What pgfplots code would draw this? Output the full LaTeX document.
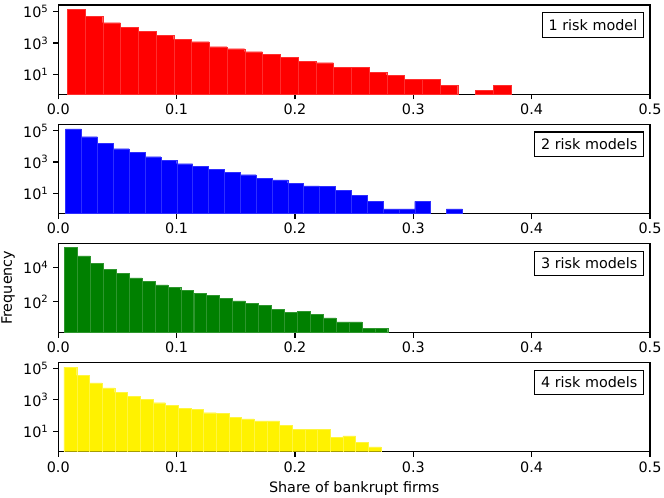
\documentclass[border=0pt]{standalone}
\usepackage{fontspec}
\setmainfont{DejaVu Sans}
\usepackage{pgfplots}
\pgfplotsset{compat=1.18}
\definecolor{mplgreen}{rgb}{0,0.5,0}
\newcommand{\fs}{\fontsize{10.77pt}{13pt}\selectfont}
\newcommand{\lbl}[1]{\node[draw, line width=0.86pt, anchor=north east, inner xsep=4.8pt, inner ysep=0pt, minimum height=18.3pt, font=\fs] at ([xshift=-4.3pt, yshift=-5.5pt]rel axis cs:1,1) {#1};}
\begin{document}
\begin{tikzpicture}
\useasboundingbox (0pt,0pt) rectangle (498pt,-373.5pt);
% Panel 1
\begin{axis}[scale only axis, width=443.8pt, height=67.05pt, anchor=north west,
  ymode=log, log origin=infty, xmin=0, xmax=0.5,
  xtick={0,0.1,0.2,0.3,0.4,0.5}, xticklabels={0.0,0.1,0.2,0.3,0.4,0.5},
  xtick pos=bottom, ytick pos=left, tick align=outside,
  major tick length=3.75pt, yminorticks=false, xminorticks=false,
  axis line style={line width=0.86pt}, every tick/.style={black, line width=0.86pt},
  tick label style={font=\fs}, clip=true,
  at={(43.7pt,-3.75pt)}, ymin=0.528, ymax=269000,
  ytick={10,1000,100000}, yticklabels={10\textsuperscript{1},10\textsuperscript{3},10\textsuperscript{5}}]
\addplot[ybar, bar shift=0pt, fill=red, draw=red!82!white, line width=0.2pt, bar width=0.015] coordinates {
(0.015,141000) (0.030,50000) (0.045,20000) (0.060,10000) (0.075,5500)
(0.090,3100) (0.105,1700) (0.120,1230) (0.135,590) (0.150,440)
(0.165,280) (0.180,195) (0.195,118) (0.210,69) (0.225,56)
(0.240,27) (0.255,27) (0.270,14) (0.285,9) (0.300,5)
(0.315,5) (0.330,2) (0.360,1) (0.375,2)};
\lbl{1 risk model}
\end{axis}
% Panel 2
\begin{axis}[scale only axis, width=443.8pt, height=67.05pt, anchor=north west,
  ymode=log, log origin=infty, xmin=0, xmax=0.5,
  xtick={0,0.1,0.2,0.3,0.4,0.5}, xticklabels={0.0,0.1,0.2,0.3,0.4,0.5},
  xtick pos=bottom, ytick pos=left, tick align=outside,
  major tick length=3.75pt, yminorticks=false, xminorticks=false,
  axis line style={line width=0.86pt}, every tick/.style={black, line width=0.86pt},
  tick label style={font=\fs}, clip=true,
  at={(43.7pt,-93.08pt)}, ymin=0.50, ymax=269000,
  ytick={10,1000,100000}, yticklabels={10\textsuperscript{1},10\textsuperscript{3},10\textsuperscript{5}}]
\addplot[ybar, bar shift=0pt, fill=blue, draw=blue!82!white, line width=0.2pt, bar width=0.013408] coordinates {
(0.0129,135000) (0.0263,42000) (0.0397,15500) (0.0531,7100) (0.0665,4000)
(0.0799,2200) (0.0934,1290) (0.1068,780) (0.1202,525) (0.1336,355)
(0.1470,220) (0.1604,155) (0.1738,87) (0.1872,71) (0.2006,44)
(0.2140,29) (0.2274,28) (0.2408,15) (0.2543,7) (0.2677,3)
(0.2811,1) (0.2945,1) (0.3079,3) (0.3347,1)};
\lbl{2 risk models}
\end{axis}
% Panel 3
\begin{axis}[scale only axis, width=443.8pt, height=67.05pt, anchor=north west,
  ymode=log, log origin=infty, xmin=0, xmax=0.5,
  xtick={0,0.1,0.2,0.3,0.4,0.5}, xticklabels={0.0,0.1,0.2,0.3,0.4,0.5},
  xtick pos=bottom, ytick pos=left, tick align=outside,
  major tick length=3.75pt, yminorticks=false, xminorticks=false,
  axis line style={line width=0.86pt}, every tick/.style={black, line width=0.86pt},
  tick label style={font=\fs}, clip=true,
  at={(43.7pt,-182.4pt)}, ymin=1.70, ymax=240000,
  ytick={100,10000}, yticklabels={10\textsuperscript{2},10\textsuperscript{4}}]
\addplot[ybar, bar shift=0pt, fill=mplgreen, draw=mplgreen!82!white, line width=0.2pt, bar width=0.01093] coordinates {
(0.0106,141000) (0.0215,45000) (0.0324,17000) (0.0434,7400) (0.0543,4300)
(0.0652,2400) (0.0762,1550) (0.0871,955) (0.0980,710) (0.1089,470)
(0.1199,300) (0.1308,235) (0.1417,155) (0.1527,115) (0.1636,83)
(0.1745,65) (0.1855,38) (0.1964,25) (0.2073,29) (0.2182,19)
(0.2292,12) (0.2401,7) (0.2510,7) (0.2620,3) (0.2729,3)};
\lbl{3 risk models}
\end{axis}
% Panel 4
\begin{axis}[scale only axis, width=443.8pt, height=67.05pt, anchor=north west,
  ymode=log, log origin=infty, xmin=0, xmax=0.5,
  xtick={0,0.1,0.2,0.3,0.4,0.5}, xticklabels={0.0,0.1,0.2,0.3,0.4,0.5},
  xtick pos=bottom, ytick pos=left, tick align=outside,
  major tick length=3.75pt, yminorticks=false, xminorticks=false,
  axis line style={line width=0.86pt}, every tick/.style={black, line width=0.86pt},
  tick label style={font=\fs}, clip=true,
  at={(43.7pt,-271.73pt)}, ymin=0.495, ymax=240000,
  ytick={10,1000,100000}, yticklabels={10\textsuperscript{1},10\textsuperscript{3},10\textsuperscript{5}}]
\addplot[ybar, bar shift=0pt, fill=yellow, draw=yellow!75!white, line width=0.2pt, bar width=0.010716] coordinates {
(0.0102,120000) (0.0209,35000) (0.0316,11700) (0.0423,5750) (0.0530,2900)
(0.0637,1620) (0.0745,1050) (0.0852,650) (0.0959,440) (0.1066,280)
(0.1173,235) (0.1280,150) (0.1388,132) (0.1495,76) (0.1602,60)
(0.1709,45) (0.1816,45) (0.1923,23) (0.2031,13) (0.2138,13)
(0.2245,13) (0.2352,4) (0.2459,5) (0.2566,2) (0.2673,1)};
\lbl{4 risk models}
\end{axis}
\node[rotate=90, anchor=base, font=\fs, inner sep=0pt] at (9pt,-215.8pt) {Frequency};
\node[anchor=base, font=\fs, inner sep=0pt] at (265.6pt,-369.1pt) {Share of bankrupt firms};
\end{tikzpicture}
\end{document}
